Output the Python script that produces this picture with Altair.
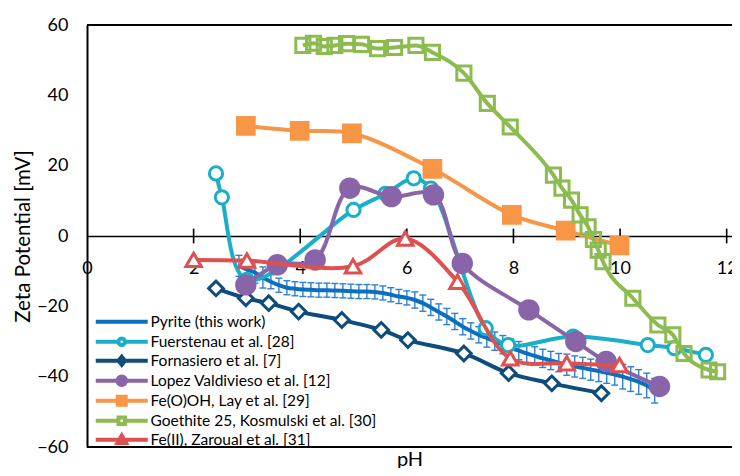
import altair as alt
import pandas as pd

# ---------------- data ----------------
x_ticks = [0, 2, 4, 6, 8, 10, 12]
y_ticks = [-60, -40, -20, 0, 20, 40, 60]
x_domain = [0, 12.1]
y_domain = [-60, 60]

series_names = [
    "Pyrite (this work)",
    "Fuerstenau et al. [28]",
    "Fornasiero et al. [7]",
    "Lopez Valdivieso et al. [12]",
    "Fe(O)OH, Lay et al. [29]",
    "Goethite 25, Kosmulski et al. [30]",
    "Fe(II), Zaroual et al. [31]",
]
series_colors = ["#0A6FBF", "#19AFC8", "#0E4C7C", "#8A64A8", "#F79646", "#8CBC4F", "#DF5050"]

pyrite_ph = [2.85, 3.00, 3.15, 3.30, 3.45, 3.60, 3.75, 3.90, 4.05, 4.20, 4.35, 4.50, 4.65, 4.80,
             4.95, 5.10, 5.25, 5.40, 5.55, 5.70, 5.85, 6.00, 6.15, 6.30, 6.45, 6.60, 6.75, 6.90,
             7.05, 7.20, 7.35, 7.50, 7.65, 7.80, 7.95, 8.10, 8.25, 8.40, 8.55, 8.70, 8.85, 9.00,
             9.15, 9.30, 9.45, 9.60, 9.75, 9.90, 10.05, 10.20, 10.35, 10.50, 10.65]
pyrite_mv = [-8.5, -9.5, -10.4, -11.8, -13.0, -14.0, -14.7, -15.0, -15.2, -15.3, -15.4, -15.4, -15.5, -15.6,
             -15.7, -15.8, -15.8, -15.9, -16.2, -16.7, -17.2, -17.6, -18.2, -19.1, -20.3, -21.6, -22.9, -24.3,
             -25.8, -27.0, -28.1, -29.0, -29.9, -30.9, -31.9, -32.6, -33.4, -34.1, -34.8, -35.4, -36.0, -36.6,
             -37.1, -37.5, -38.0, -38.4, -38.9, -39.4, -40.0, -40.7, -41.5, -42.5, -44.0]
pyrite_err = [3.0, 3.0, 3.0, 3.0, 2.0, 2.0, 2.0, 2.0, 2.0, 2.0, 2.0, 2.0, 2.0, 2.0,
              2.0, 2.0, 2.0, 2.0, 2.0, 2.0, 2.0, 2.0, 2.3, 2.3, 2.3, 2.3, 2.3, 2.3,
              2.3, 2.3, 2.3, 2.6, 2.6, 2.6, 2.6, 2.6, 2.6, 2.6, 2.6, 2.6, 2.6, 3.0,
              3.0, 3.0, 3.0, 3.0, 3.0, 3.0, 3.5, 3.5, 3.5, 3.5, 3.5]

fuer_ph = [2.42, 2.53, 3.00, 5.00, 5.60, 6.13, 6.45, 7.48, 7.90, 9.12, 10.52, 11.02, 11.61]
fuer_mv = [17.8, 11.0, -12.5, 7.4, 12.0, 16.4, 13.5, -26.2, -31.0, -28.6, -31.0, -31.9, -33.8]

forn_ph = [2.42, 2.98, 3.41, 3.97, 4.78, 5.52, 6.02, 7.07, 7.91, 8.72, 9.65]
forn_mv = [-14.9, -17.7, -19.1, -21.5, -23.9, -26.7, -29.6, -33.4, -39.0, -41.9, -44.7]

lopez_ph = [2.98, 3.57, 4.28, 4.93, 5.71, 6.50, 7.04, 8.29, 9.17, 9.74, 10.74]
lopez_mv = [-13.9, -8.2, -6.8, 13.6, 11.2, 11.7, -7.8, -21.0, -30.0, -35.7, -42.8]

feooh_ph = [2.98, 3.99, 4.97, 6.48, 7.97, 8.98, 9.99]
feooh_mv = [31.3, 29.9, 29.2, 19.1, 6.0, 1.5, -2.7]

goe_ph = [4.05, 4.25, 4.45, 4.65, 4.87, 5.15, 5.45, 5.77, 6.17, 6.48, 7.07, 7.51, 7.94, 8.75,
          8.91, 9.09, 9.25, 9.40, 9.50, 9.59, 9.68, 10.24, 10.71, 10.99, 11.20, 11.67, 11.83]
goe_mv = [54.2, 54.8, 53.9, 54.2, 54.7, 54.5, 53.3, 53.6, 54.2, 52.2, 46.3, 37.7, 31.0, 17.3,
          13.6, 10.2, 6.0, 2.6, -1.0, -4.0, -7.3, -17.7, -25.3, -28.1, -33.4, -38.1, -38.6]

fe2_ph = [2.0, 3.0, 4.99, 5.97, 6.95, 7.94, 9.0, 9.99]
fe2_mv = [-6.8, -7.0, -8.6, -0.7, -13.0, -34.8, -36.2, -36.7]

# ---------------- styles ----------------
W, H = 645, 422
FONT = "Lato"

xscale = alt.Scale(domain=x_domain, nice=False, zero=False)
yscale = alt.Scale(domain=y_domain, nice=False)

xaxis = alt.Axis(values=x_ticks, offset=-H / 2, ticks=False, grid=False, domainColor="black",
                 domainWidth=1.6, labelPadding=23, labelFlush=False, labelFontSize=18,
                 title="pH", titleFontSize=20, titleFontWeight="normal", titleY=229,
                 titleBaseline="alphabetic")
yaxis = alt.Axis(values=y_ticks, ticks=False, grid=False, domainColor="black", domainWidth=2,
                 labelPadding=19, labelFontSize=18, title="Zeta Potential [mV]", titleFontSize=20.5,
                 titleFontWeight="normal", titlePadding=3)


def X(field="pH"):
    return alt.X(f"{field}:Q", scale=xscale, axis=xaxis)


def Y(field="mV"):
    return alt.Y(f"{field}:Q", scale=yscale, axis=yaxis)


layers = []

# frame lines (top / bottom) and crossing ticks on the zero line
frame = alt.Chart(pd.DataFrame({"mV": [y_domain[1], y_domain[0]]})).mark_rule(
    color="black", strokeWidth=2).encode(y=Y())
layers.append(frame)
ticks = alt.Chart(pd.DataFrame({"pH": x_ticks[1:]})).mark_rule(color="black", strokeWidth=1.6).encode(
    x=X(), y=alt.datum(-2.1), y2=alt.datum(2.1))
layers.append(ticks)

# pyrite with error bars
pyr = pd.DataFrame({"pH": pyrite_ph, "mV": pyrite_mv, "err": pyrite_err})
pyr["lo"] = pyr["mV"] - pyr["err"]
pyr["hi"] = pyr["mV"] + pyr["err"]
err_color = "#2F80D0"
layers.append(alt.Chart(pyr).mark_rule(color=err_color, strokeWidth=1.4).encode(
    x=X(), y=Y("lo"), y2="hi:Q"))
layers.append(alt.Chart(pyr).mark_tick(orient="horizontal", color=err_color, size=7, thickness=1.4,
                                       opacity=1).encode(x=X(), y=Y("lo")))
layers.append(alt.Chart(pyr).mark_tick(orient="horizontal", color=err_color, size=7, thickness=1.4,
                                       opacity=1).encode(x=X(), y=Y("hi")))
layers.append(alt.Chart(pyr).mark_line(color=series_colors[0], strokeWidth=4,
                                       interpolate="catmull-rom").encode(x=X(), y=Y()))

series = [
    (fuer_ph, fuer_mv, series_colors[1], "circle", 175, "white", "catmull-rom"),
    (forn_ph, forn_mv, series_colors[2], "diamond", 215, "white", "catmull-rom"),
    (lopez_ph, lopez_mv, series_colors[3], "circle", 340, series_colors[3], "catmull-rom"),
    (feooh_ph, feooh_mv, series_colors[4], "square", 280, series_colors[4], "catmull-rom"),
    (goe_ph, goe_mv, series_colors[5], "square", 200, "transparent", "monotone"),
    (fe2_ph, fe2_mv, series_colors[6], "triangle-up", 240, "white", "catmull-rom"),
]
for ph, mv, col, shp, sz, fil, interp in series:
    df = pd.DataFrame({"pH": ph, "mV": mv})
    layers.append(alt.Chart(df).mark_line(color=col, strokeWidth=4, interpolate=interp).encode(
        x=X(), y=Y()))
    layers.append(alt.Chart(df).mark_point(shape=shp, size=sz, filled=True, fill=fil, stroke=col,
                                           strokeWidth=3, opacity=1).encode(x=X(), y=Y()))

# legend: line + marker glyphs
legend_paths = [
    "M-5.2,0L5.2,0M0,-0.85M0,0.85",
    "M-5.2,0L-0.65,0M0.65,0L5.2,0M0.65,0A0.65,0.65,0,1,1,-0.65,0A0.65,0.65,0,1,1,0.65,0Z",
    "M-5.2,0L5.2,0M0,-0.8L0.65,0L0,0.8L-0.65,0Z",
    "M-5.2,0L5.2,0M0.85,0A0.85,0.85,0,1,1,-0.85,0A0.85,0.85,0,1,1,0.85,0Z",
    "M-5.2,0L5.2,0M-0.8,-0.8L0.8,-0.8L0.8,0.8L-0.8,0.8Z",
    "M-5.2,0L-0.65,0M0.65,0L5.2,0M-0.65,-0.65L0.65,-0.65L0.65,0.65L-0.65,0.65Z",
    "M-5.2,0L5.2,0M0,-0.85L0.85,0.65L-0.85,0.65Z",
]
legend_fills = [series_colors[0], "white", series_colors[2], series_colors[3], series_colors[4],
                "white", series_colors[6]]
leg = alt.Legend(orient="none", legendX=27, legendY=289, title=None, labelFont=FONT,
                 labelFontSize=15.5, labelColor="black", symbolSize=100, symbolStrokeWidth=4,
                 labelOffset=21, rowPadding=-11.3, padding=0, symbolOpacity=1, labelLimit=500)
legend_df = pd.DataFrame({"series": series_names, "pH": [float("nan")] * 7, "mV": [float("nan")] * 7})
layers.append(alt.Chart(legend_df).mark_point(size=100, strokeWidth=4, opacity=1, filled=True).encode(
    x=X(), y=Y(),
    shape=alt.Shape("series:N", scale=alt.Scale(domain=series_names, range=legend_paths), legend=leg),
    stroke=alt.Stroke("series:N", scale=alt.Scale(domain=series_names, range=series_colors), legend=leg),
    fill=alt.Fill("series:N", scale=alt.Scale(domain=series_names, range=legend_fills), legend=leg),
))

chart = alt.layer(*layers).properties(
    width=W, height=H,
    autosize=alt.AutoSizeParams(type="none"),
    padding={"left": 79, "top": 17, "right": 0, "bottom": 21},
).configure_view(stroke=None).configure_axis(
    labelFont=FONT, titleFont=FONT, labelColor="black", titleColor="black", titleFontWeight="normal"
).configure(font=FONT)

chart.save("out.html", embed_options={"renderer": "svg", "actions": False})
